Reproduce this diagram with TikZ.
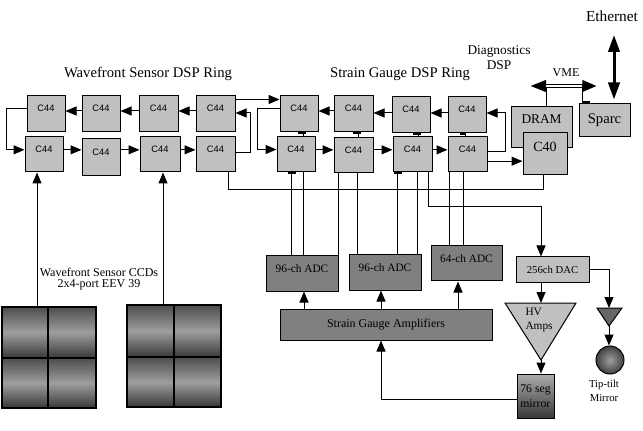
\documentclass[tikz,border=0pt]{standalone}
\usepackage{fontspec}
\setmainfont{Liberation Serif}
\setsansfont{Liberation Sans}
\usetikzlibrary{arrows.meta,calc,shapes.geometric}
\definecolor{silver}{HTML}{C0C0C0}
\definecolor{midgray}{HTML}{808080}
\definecolor{darkgr}{HTML}{666666}
\begin{document}
\begin{tikzpicture}[x=0.75pt,y=-0.75pt,line width=0.75pt,
  wh/.style 2 args={minimum width=#1*0.75pt,minimum height=#2*0.75pt},
  c44/.style={draw,fill=silver,inner sep=0pt,font=\sffamily\fontsize{7}{8}\selectfont,text height=5pt,text depth=8pt},
  adc/.style={draw,fill=midgray,inner sep=0pt,font=\fontsize{8.5}{10}\selectfont,text height=6pt,text depth=8pt},
  lbox/.style={draw,fill=silver,inner sep=0pt},
  arr/.style={-{Triangle[length=8.25pt,width=6.75pt]}},
  blip/.style={line width=1.5pt},
  txt/.style={inner sep=0pt,align=center},
  cell/.style={top color=black!70,bottom color=black!78,middle color=black!38}
]
\useasboundingbox (0,0) rectangle (643,431);
\fill[white] (0,0) rectangle (643,431);

% helper columns
\foreach \xx in {37,163,228,291,303,304,338,357,358,381,397,417,418,428,449,458,463,465,541,543,546,582,614}
  \coordinate (v\xx) at (\xx,0);

% titles
\node[txt,anchor=base,font=\fontsize{11}{13}\selectfont] (t1) at (148,78) {Wavefront Sensor DSP Ring};
\node[txt,anchor=base,font=\fontsize{11}{13}\selectfont] (t2) at (400,78) {Strain Gauge DSP Ring};
\node[txt,font=\fontsize{10}{11.3}\selectfont] (diag) at (499,58) {Diagnostics\\DSP};
\node[txt,font=\fontsize{9}{11}\selectfont] (vme) at (566,72.5) {VME};
\node[txt,anchor=base,font=\fontsize{11.5}{13}\selectfont] (eth) at (612,22) {Ethernet};

% WFS ring
\node[c44,wh={38}{36}] (wt1) at (46,114) {C44};
\node[c44,wh={38}{36}] (wt2) at (101,114) {C44};
\node[c44,wh={39}{36}] (wt3) at (158.5,114) {C44};
\node[c44,wh={39}{36}] (wt4) at (215.5,114) {C44};
\node[c44,wh={38}{35}] (wb1) at (44,154.5) {C44};
\node[c44,wh={38}{37}] (wb2) at (101,157.5) {C44};
\node[c44,wh={40}{35}] (wb3) at (160,154.5) {C44};
\node[c44,wh={39}{35}] (wb4) at (215.5,154.5) {C44};

% SG ring
\node[c44,wh={38}{36}] (st1) at (299,114) {C44};
\node[c44,wh={39}{36}] (st2) at (353.5,114) {C44};
\node[c44,wh={38}{36}] (st3) at (411,115) {C44};
\node[c44,wh={38}{36}] (st4) at (467,115) {C44};
\node[c44,wh={38}{35}] (sb1) at (296,154.5) {C44};
\node[c44,wh={39}{35}] (sb2) at (353.5,155.5) {C44};
\node[c44,wh={39}{35}] (sb3) at (412.5,154.5) {C44};
\node[c44,wh={39}{35}] (sb4) at (467.5,154.5) {C44};

% diagnostics
\node[lbox,wh={61}{41},font=\fontsize{10}{12}\selectfont,text height=7pt,text depth=12.4pt] (dram) at (541.5,127.5) {DRAM};
\node[lbox,wh={44}{42},font=\fontsize{10.5}{12}\selectfont,text height=7.5pt,text depth=11pt] (c40) at (545,154) {C40};
\node[lbox,wh={51}{33},font=\fontsize{11}{13}\selectfont] (sparc) at (604.5,120.5) {Sparc};

% ADCs and amplifiers
\node[adc,wh={72}{35}] (adc1) at (302,273.5) {96-ch ADC};
\node[adc,wh={72}{35}] (adc2) at (385,272.5) {96-ch ADC};
\node[adc,wh={71}{35}] (adc3) at (466.5,263.5) {64-ch ADC};
\node[draw,fill=midgray,inner sep=0pt,wh={212}{31},font=\fontsize{9}{11}\selectfont] (sga) at (386,324.5) {Strain Gauge Amplifiers};

% DAC, HV amps, mirrors
\node[lbox,wh={73}{26},font=\fontsize{8}{10}\selectfont] (dac) at (552.5,270) {256ch DAC};
\coordinate (hvtop) at (541,303);
\coordinate (hvapex) at (541,360);
\filldraw[fill=silver] (505,303) -- (576,303) -- (hvapex) -- cycle;
\node[txt,align=left,anchor=north west,font=\fontsize{8.5}{10.5}\selectfont] (hvl) at (525,308) {HV\\Amps};
\node[draw,top color=black!32,bottom color=black!78,inner sep=0pt,align=left,wh={37}{44},font=\fontsize{8.8}{11}\selectfont] (mirror) at (535.5,396) {76 seg\\mirror};
\coordinate (tttop) at (609,308);
\coordinate (ttapex) at (609,326);
\filldraw[fill=darkgr] (597,308) -- (622,308) -- (ttapex) -- cycle;
\node[circle,draw,minimum size=28*0.75pt,inner sep=0pt,inner color=black!38,outer color=black!75] (ttm) at (610,360) {};
\node[txt,font=\fontsize{8}{10.5}\selectfont] (ttl) at (604,391) {Tip-tilt\\Mirror};

% CCDs
\shade[cell] (2,307) rectangle (48,358);
\shade[cell] (48,307) rectangle (96,358);
\shade[cell] (2,358) rectangle (48,408);
\shade[cell] (48,358) rectangle (96,408);
\draw[line width=1.5pt] (48,307) -- (48,408) (2,358) -- (96,358);
\node[draw,line width=1pt,wh={94}{101},inner sep=0pt] (ccdL) at (49,357.5) {};
\shade[cell] (127,305) rectangle (174,357);
\shade[cell] (174,305) rectangle (221,357);
\shade[cell] (127,357) rectangle (174,407);
\shade[cell] (174,357) rectangle (221,407);
\draw[line width=1.5pt] (174,305) -- (174,407) (127,357) -- (221,357);
\node[draw,line width=1pt,wh={94}{102},inner sep=0pt] (ccdR) at (174,356) {};
\node[txt,font=\fontsize{9}{8.5}\selectfont] (ccdlab) at (99,279) {Wavefront Sensor CCDs\\2x4-port EEV 39};

% CCD -> WFS
\draw[arr] (v37 |- ccdL.north) -- (v37 |- wb1.south);
\draw[arr] (v163 |- ccdR.north) -- (v163 |- wb3.south);

% WFS ring connectors
\draw[arr] ([yshift=2.25pt]wt2.west) -- ([yshift=2.25pt]wt1.east);
\draw[arr] ([yshift=2.25pt]wt3.west) -- ([yshift=2.25pt]wt2.east);
\draw[arr] ([yshift=2.25pt]wt4.west) -- ([yshift=2.25pt]wt3.east);
\draw[arr] ([yshift=3.5pt]wb1.east) -- ([yshift=3.5pt]wb1.east -| wb2.west);
\draw[arr] ([yshift=3.5pt]wb1.east -| wb2.east) -- ([yshift=3.5pt]wb3.west);
\draw[arr] ([yshift=3.5pt]wb3.east) -- ([yshift=3.5pt]wb4.west);
\draw[arr] ([yshift=3.75pt]wt1.west) -- ++(-20,0) |- ([yshift=3.5pt]wb1.west);
\draw[arr] ([yshift=1.5pt]wb4.east) -- ++(15,0) |- ([yshift=0.75pt]wt4.east);
\draw[arr] ([yshift=-3pt]wt4.north east) -- ([yshift=-3pt]wt4.north east -| st1.west);

% SG ring connectors
\draw[arr] ([yshift=2.25pt]st2.west) -- ([yshift=2.25pt]st2.west -| st1.east);
\draw[arr] ([yshift=1.5pt]st3.west) -- ([yshift=1.5pt]st3.west -| st2.east);
\draw[arr] ([yshift=1.5pt]st4.west) -- ([yshift=1.5pt]st3.east);
\draw[arr] ([yshift=3.5pt]sb1.east) -- ([yshift=3.5pt]sb1.east -| sb2.west);
\draw[arr] ([yshift=3.5pt]sb1.east -| sb2.east) -- ([yshift=3.5pt]sb3.west);
\draw[arr] ([yshift=3.5pt]sb3.east) -- ([yshift=3.5pt]sb4.west);
\draw[arr] ([yshift=3.75pt]st1.west) -- ++(-22,0) |- ([yshift=3.75pt]sb1.west);
\draw[arr] ([yshift=2pt]sb4.east) -- ++(18,0) |- ([yshift=1.5pt]st4.east);
\draw[arr] ([yshift=-5pt]sb4.east) -- ([yshift=-5pt]sb4.east -| c40.west);

% links between SG rows
\draw (v303 |- st1.south) -- (v303 |- sb1.north);
\draw (v358 |- st2.south) -- (v358 |- sb2.north);
\draw (v418 |- st3.south) -- (v418 |- sb3.north);
\draw (v465 |- st4.south) -- (v465 |- sb4.north);
\draw[blip] ([xshift=-3.5pt,yshift=-0.75pt]v303 |- st1.south) -- ++(7.5,0);
\draw[blip] ([xshift=-3.5pt,yshift=-0.75pt]v358 |- st2.south) -- ++(7.5,0);
\draw[blip] ([xshift=-3.5pt,yshift=-0.75pt]v418 |- st3.south) -- ++(7.5,0);
\draw[blip] ([xshift=-3.5pt,yshift=-0.75pt]v465 |- st4.south) -- ++(6,0);
\draw[blip] ([xshift=-2pt,yshift=-0.75pt]v291 |- sb1.south) -- ++(7.5,0);
\draw[blip] ([xshift=-2pt,yshift=-0.75pt]v397 |- sb3.south) -- ++(7.5,0);

% bus from C40 to WFS
\coordinate (busL) at (228,190);
\coordinate (busR) at (543,190);
\draw (busL |- wb4.south) -- (busL) -- (busR) -- (busR |- c40.south);

% SG -> ADC lines
\draw (v291 |- sb1.south) -- (v291 |- adc1.north);
\draw (v303 |- sb1.south) -- (v303 |- adc1.north);
\draw (v338 |- sb2.south) -- (v338 |- adc1.north);
\draw (v357 |- sb2.south) -- (v357 |- adc2.north);
\draw (v397 |- sb3.south) -- (v397 |- adc2.north);
\draw (v417 |- sb3.south) -- (v417 |- adc2.north);
\draw (v449 |- sb4.south) -- (v449 |- adc3.north);
\draw (v463 |- sb4.south) -- (v463 |- adc3.north);

% SG -> DAC
\coordinate (db1) at (428,207);
\coordinate (db2) at (541,207);
\draw[arr] (db1 |- sb3.south) -- (db1) -- (db2) -- (db2 |- dac.north);

% amplifiers -> ADCs
\draw[arr] (v304 |- sga.north) -- (v304 |- adc1.south);
\draw[arr] (v381 |- sga.north) -- (v381 |- adc2.south);
\draw[arr] (v458 |- sga.north) -- (v458 |- adc3.south);
\draw[arr] ([yshift=-2.25pt]mirror.west) -| (v381 |- sga.south);

% DAC chain
\draw[arr] (hvtop |- dac.south) -- (hvtop);
\draw[arr] (hvapex) -- (hvapex |- mirror.north);
\draw[arr] (dac.east) -| (tttop);
\draw[arr] (ttapex) -- (ttapex |- ttm.north);

% VME
\coordinate (vmeL) at (530,86);
\coordinate (vmeR) at (597,86);
\draw (v546 |- dram.north) -- (v546 |- vmeL);
\draw (v582 |- sparc.north) -- (v582 |- vmeR);
\draw[blip] ([yshift=0.75pt]v582 |- sparc.north) -- ++(8,0);
\draw[{Triangle[length=12pt,width=8.25pt]}-{Triangle[length=11pt,width=8.25pt]},line width=2.7pt] (vmeL) -- (vmeR);
\draw[white,line width=0.9pt,shorten <=12pt,shorten >=11pt] (vmeL) -- (vmeR);

% Ethernet
\coordinate (ethT) at (614,35);
\draw[{Triangle[length=12.75pt,width=8.5pt]}-{Triangle[length=12.75pt,width=8.5pt]},line width=2.25pt] (ethT) -- ([yshift=3pt]v614 |- sparc.north);
\end{tikzpicture}
\end{document}
